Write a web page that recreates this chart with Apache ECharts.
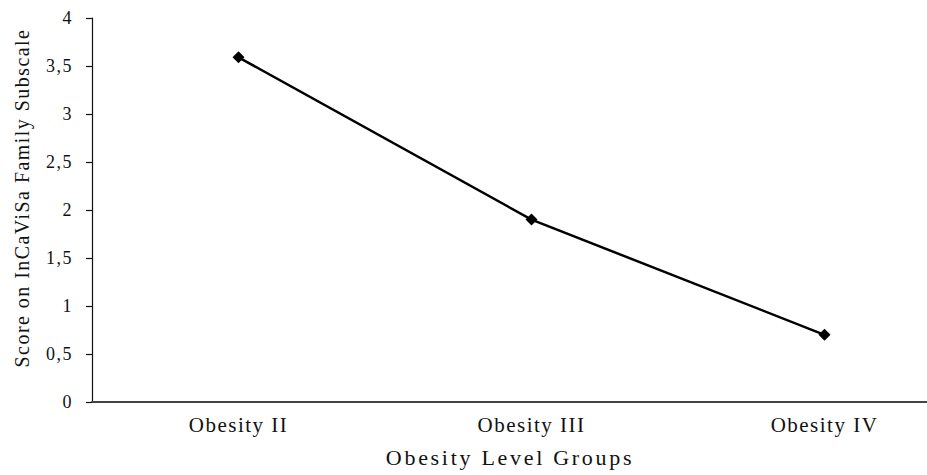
<!DOCTYPE html>
<html>
<head>
<meta charset="utf-8">
<script src="https://cdn.jsdelivr.net/npm/echarts@6/dist/echarts.min.js"></script>
<style>
  html, body { margin: 0; padding: 0; background: #fff; }
  #chart { width: 927px; height: 475px; }
  #chart text { letter-spacing: 1.5px; }
  #chart text[style*="22px"] { letter-spacing: 2.7px; }
</style>
</head>
<body>
<div id="chart"></div>
<script>
const categories = ['Obesity II', 'Obesity III', 'Obesity IV'];
const scores = [3.59, 1.90, 0.70];
const yTicks = { min: 0, max: 4, interval: 0.5 };
const xAxisTitle = 'Obesity Level Groups';
const yAxisTitle = 'Score on InCaViSa Family Subscale';

const serif = 'Liberation Serif';
const chart = echarts.init(document.getElementById('chart'), null, { renderer: 'svg' });
chart.setOption({
  animation: false,
  backgroundColor: '#fff',
  grid: { left: 92, top: 18, height: 384, width: 879, containLabel: false, outerBoundsMode: 'none' },
  xAxis: {
    type: 'category',
    data: categories,
    boundaryGap: true,
    axisLine: { lineStyle: { color: '#444', width: 2 } },
    axisTick: { show: false },
    axisLabel: { fontFamily: serif, fontSize: 21, color: '#111', margin: 12 },
    splitLine: { show: false }
  },
  yAxis: {
    type: 'value',
    min: yTicks.min, max: yTicks.max, interval: yTicks.interval,
    axisLine: { show: true, lineStyle: { color: '#111', width: 1.2 } },
    axisTick: { show: true, inside: false, length: 6, lineStyle: { color: '#111', width: 1.2 } },
    axisLabel: {
      fontFamily: serif, fontSize: 18, color: '#111', margin: 19,
      formatter: v => String(v).replace('.', ',')
    },
    splitLine: { show: false }
  },
  graphic: [
    {
      type: 'text', x: 510, y: 457,
      style: { text: xAxisTitle, fontFamily: serif, fontSize: 22, fill: '#111', align: 'center', verticalAlign: 'middle' }
    },
    {
      type: 'text', x: 22, y: 198, rotation: Math.PI / 2,
      style: { text: yAxisTitle, fontFamily: serif, fontSize: 19.9, fill: '#111', align: 'center', verticalAlign: 'middle' }
    }
  ],
  series: [{
    type: 'line',
    data: scores,
    symbol: 'diamond',
    symbolSize: 12,
    lineStyle: { color: '#000', width: 2.5 },
    itemStyle: { color: '#000' }
  }]
});
</script>
</body>
</html>
